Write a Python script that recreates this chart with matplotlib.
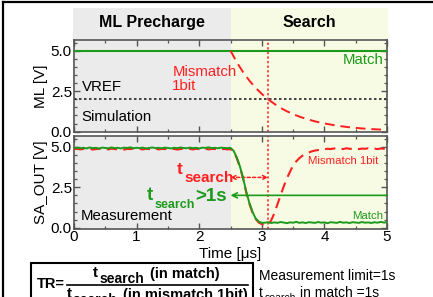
import numpy as np
import matplotlib
matplotlib.use('Agg')
import matplotlib.pyplot as plt
from matplotlib.patches import Rectangle
from matplotlib.lines import Line2D
from matplotlib.ticker import MultipleLocator

plt.rcParams['font.family'] = ['Liberation Sans', 'DejaVu Sans']

# ---------------- data ----------------
phase_labels = ['ML Precharge', 'Search']
phase_bounds = [0.0, 2.5, 5.0]
vref = 2.0
t_search_mark = 3.1
sim_match_level = 5.0

sim_time = [2.5, 2.6, 2.7, 2.8, 2.9, 3.0, 3.1, 3.2, 3.3, 3.4, 3.5, 3.6, 3.7,
            3.8, 3.9, 4.0, 4.2, 4.4, 4.6, 4.8, 5.0]
sim_mismatch = [5.0, 4.29, 3.68, 3.16, 2.71, 2.33, 2.0, 1.72, 1.47, 1.26, 1.08,
                0.93, 0.80, 0.69, 0.59, 0.51, 0.37, 0.27, 0.20, 0.15, 0.11]

meas_time = np.round(np.arange(0, 5.0001, 0.05), 2)
meas_match = [
    4.93, 4.95, 4.91, 4.94, 4.90, 4.96, 4.92, 4.94, 4.89, 4.95,
    4.93, 4.91, 4.96, 4.92, 4.94, 4.90, 4.95, 4.93, 4.97, 4.91,
    4.94, 4.92, 4.95, 4.90, 4.93, 4.96, 4.92, 4.94, 4.91, 4.95,
    4.93, 4.90, 4.94, 4.92, 4.96, 4.93, 4.91, 4.95, 4.92, 4.94,
    4.90, 4.95, 4.93, 4.97, 4.92, 4.94, 4.91, 4.95, 4.93, 4.92,
    4.94,
    4.75, 4.35, 3.80, 3.10, 2.25, 1.55, 1.00, 0.58, 0.38, 0.30,
    0.31, 0.34, 0.29, 0.33, 0.30, 0.35, 0.32, 0.28, 0.33, 0.31,
    0.36, 0.30, 0.33, 0.29, 0.34, 0.32, 0.30, 0.35, 0.31, 0.33,
    0.28, 0.34, 0.32, 0.30, 0.36, 0.31, 0.33, 0.29, 0.34, 0.32,
    0.30, 0.35, 0.31, 0.33, 0.29, 0.34, 0.31, 0.36, 0.32, 0.33]
meas_mismatch = [
    4.86, 4.88, 4.84, 4.87, 4.85, 4.89, 4.83, 4.86, 4.88, 4.85,
    4.87, 4.84, 4.89, 4.86, 4.85, 4.88, 4.83, 4.87, 4.86, 4.89,
    4.85, 4.87, 4.84, 4.88, 4.86, 4.85, 4.89, 4.84, 4.87, 4.86,
    4.88, 4.85, 4.87, 4.83, 4.86, 4.89, 4.85, 4.87, 4.84, 4.88,
    4.86, 4.85, 4.88, 4.84, 4.87, 4.86, 4.89, 4.85, 4.87, 4.84,
    4.86,
    4.72, 4.30, 3.75, 3.05, 2.20, 1.50, 0.95, 0.55, 0.32, 0.22,
    0.18, 0.20, 0.45, 0.90, 1.45, 2.00, 2.55, 3.05, 3.45, 3.85,
    4.10, 4.30, 4.45, 4.55, 4.65, 4.72, 4.77, 4.80, 4.83, 4.85,
    4.88, 4.86, 4.90, 4.87, 4.89, 4.86, 4.91, 4.88, 4.87, 4.90,
    4.86, 4.89, 4.88, 4.91, 4.87, 4.89, 4.86, 4.90, 4.88, 4.89]

# ---------------- style ----------------
GREEN = '#1c9a1c'
RED = '#ff1f1f'
GRAY_BG = '#ebebeb'
YEL_BG = '#f8fbe3'
SPINE = '#555555'

W, H = 433, 297
fig = plt.figure(figsize=(W / 100, H / 100), dpi=100)


def fx(px):
    return px / W


def fy(py):
    return 1 - py / H


L, R = 74, 387
# header
axh = fig.add_axes([fx(L - 1), fy(40), fx(R + 1) - fx(L - 1), fy(8) - fy(40)])
axh.set_xlim(phase_bounds[0], phase_bounds[-1])
axh.set_ylim(0, 1)
axh.axvspan(phase_bounds[0], phase_bounds[1], color=GRAY_BG, lw=0)
axh.axvspan(phase_bounds[1], phase_bounds[2], color=YEL_BG, lw=0)
for i, lab in enumerate(phase_labels):
    axh.text((phase_bounds[i] + phase_bounds[i + 1]) / 2, 0.56, lab,
             ha='center', va='center', fontsize=11.5, fontweight='bold')
axh.axis('off')

ax1 = fig.add_axes([fx(L), fy(132), fx(R) - fx(L), fy(40) - fy(132)])
ax2 = fig.add_axes([fx(L), fy(229), fx(R) - fx(L), fy(135.5) - fy(229)])

for ax in (ax1, ax2):
    ax.axvspan(phase_bounds[0], phase_bounds[1], color=GRAY_BG, lw=0, zorder=0)
    ax.axvspan(phase_bounds[1], phase_bounds[2], color=YEL_BG, lw=0, zorder=0)
    ax.set_xlim(0, 5)
    ax.xaxis.set_major_locator(MultipleLocator(1))
    ax.xaxis.set_minor_locator(MultipleLocator(0.5))
    ax.yaxis.set_major_locator(MultipleLocator(2.5))
    ax.yaxis.set_minor_locator(MultipleLocator(0.5))
    ax.tick_params(which='both', direction='in', top=True, right=True,
                   colors=SPINE, labelcolor='black', labelsize=11)
    ax.tick_params(which='major', length=4, width=1.0)
    ax.tick_params(which='minor', length=2.5, width=0.9)
    ax.tick_params(axis='y', pad=1.5)
    ax.tick_params(axis='x', pad=1)
    for s in ax.spines.values():
        s.set_color(SPINE)
        s.set_linewidth(1.2)
    ax.yaxis.set_major_formatter(matplotlib.ticker.FormatStrFormatter('%.1f'))
    ax.axvline(t_search_mark, color=RED, lw=1.1, ls=(0, (1.5, 1.5)), zorder=2)

# ---- simulation panel ----
ax1.set_ylim(-0.02, 5.66)
ax1.tick_params(axis='x', labelbottom=False)
ax1.axhline(sim_match_level, color=GREEN, lw=1.5, zorder=3)
ax1.axhline(vref, color='#222222', lw=1.2, ls=(0, (1.5, 1.5)), zorder=2)
ax1.plot(sim_time, sim_mismatch, color=RED, lw=1.4, ls=(0, (5, 3)), zorder=3)
ax1.set_ylabel('ML [V]', fontsize=11, labelpad=2)
ax1.text(0.13, 2.78, 'VREF', fontsize=10.8, va='center', ha='left')
ax1.text(0.11, 0.93, 'Simulation', fontsize=10.8, va='center', ha='left')
ax1.text(1.57, 4.1, 'Mismatch\n1bit', fontsize=10.8, va='top', ha='left',
         color=RED, linespacing=1.0)
ax1.text(4.95, 4.44, 'Match', fontsize=10.8, va='center', ha='right', color=GREEN)

# ---- measurement panel ----
ax2.set_ylim(-0.08, 5.70)
ax2.plot(meas_time, meas_mismatch, color=RED, lw=1.5, ls=(0, (5, 3)), zorder=3)
ax2.plot(meas_time, meas_match, color=GREEN, lw=1.4, zorder=4)
ax2.set_ylabel('SA_OUT [V]', fontsize=11, labelpad=2)
ax2.set_xlabel('Time [\u03bcs]', fontsize=11, labelpad=2)
ax2.text(0.11, 0.72, 'Measurement', fontsize=10.8, va='center', ha='left')
ax2.text(3.74, 4.12, 'Mismatch 1bit', fontsize=8.2, va='center', ha='left', color=RED)
ax2.text(4.94, 0.72, 'Match', fontsize=8.2, va='center', ha='right', color=GREEN)

# t_search arrows
ax2.annotate('', xy=(2.5, 3.11), xytext=(t_search_mark, 3.11),
             arrowprops=dict(arrowstyle='<->', color=RED, lw=1.1,
                             ls=(0, (2, 1.5)), shrinkA=0, shrinkB=0,
                             mutation_scale=7))
ax2.annotate('', xy=(2.5, vref), xytext=(5.0, vref),
             arrowprops=dict(arrowstyle='->', color=GREEN, lw=1.2,
                             shrinkA=0, shrinkB=0, mutation_scale=9))


# subscripted labels in pixel space
def ptext(px, py, s, **kw):
    fig.text(fx(px), fy(py), s, **kw)


ptext(177, 173.5, 't', fontsize=12.5, fontweight='bold', color=RED, va='baseline')
ptext(184.5, 182.5, 'search', fontsize=11, fontweight='bold', color=RED, va='baseline')
ptext(146.5, 200.5, 't', fontsize=13.5, fontweight='bold', color=GREEN, va='baseline')
ptext(155, 208.5, 'search', fontsize=9, fontweight='bold', color=GREEN, va='baseline')
ptext(195.5, 201, '>1s', fontsize=13.5, fontweight='bold', color=GREEN, va='baseline')

# outer frame
fig.add_artist(Line2D([fx(3), fx(3)], [fy(2), fy(300)], color='black', lw=1.6))
fig.add_artist(Line2D([fx(3), fx(440)], [fy(2), fy(2)], color='black', lw=1.6))

# formula box
fig.add_artist(Rectangle((fx(31), fy(330)), fx(253) - fx(31), fy(263) - fy(330),
                         transform=fig.transFigure, fill=False,
                         edgecolor='black', lw=1.5))
ptext(37, 288, 'TR=', fontsize=10.5, fontweight='bold', va='baseline')
fig.add_artist(Line2D([fx(67), fx(248)], [fy(284.5), fy(284.5)], color='black', lw=1.2))
ptext(93, 277, 't', fontsize=11, fontweight='bold', va='baseline')
ptext(100, 283, 'search', fontsize=10, fontweight='bold', va='baseline')
ptext(150, 278, '(in match)', fontsize=10.5, fontweight='bold', va='baseline')
ptext(66.5, 298.5, 't', fontsize=11, fontweight='bold', va='baseline')
ptext(73, 304.5, 'search', fontsize=10, fontweight='bold', va='baseline')
ptext(123, 299, '(in mismatch 1bit)', fontsize=10.5, fontweight='bold', va='baseline')

ptext(259, 280, 'Measurement limit=1s', fontsize=10, va='baseline')
ptext(259, 297, 't', fontsize=10, va='baseline')
ptext(264.5, 301, 'search', fontsize=7.5, va='baseline')
ptext(300, 297, 'in match =1s', fontsize=10, va='baseline')

fig.savefig('out.png', dpi=100)
